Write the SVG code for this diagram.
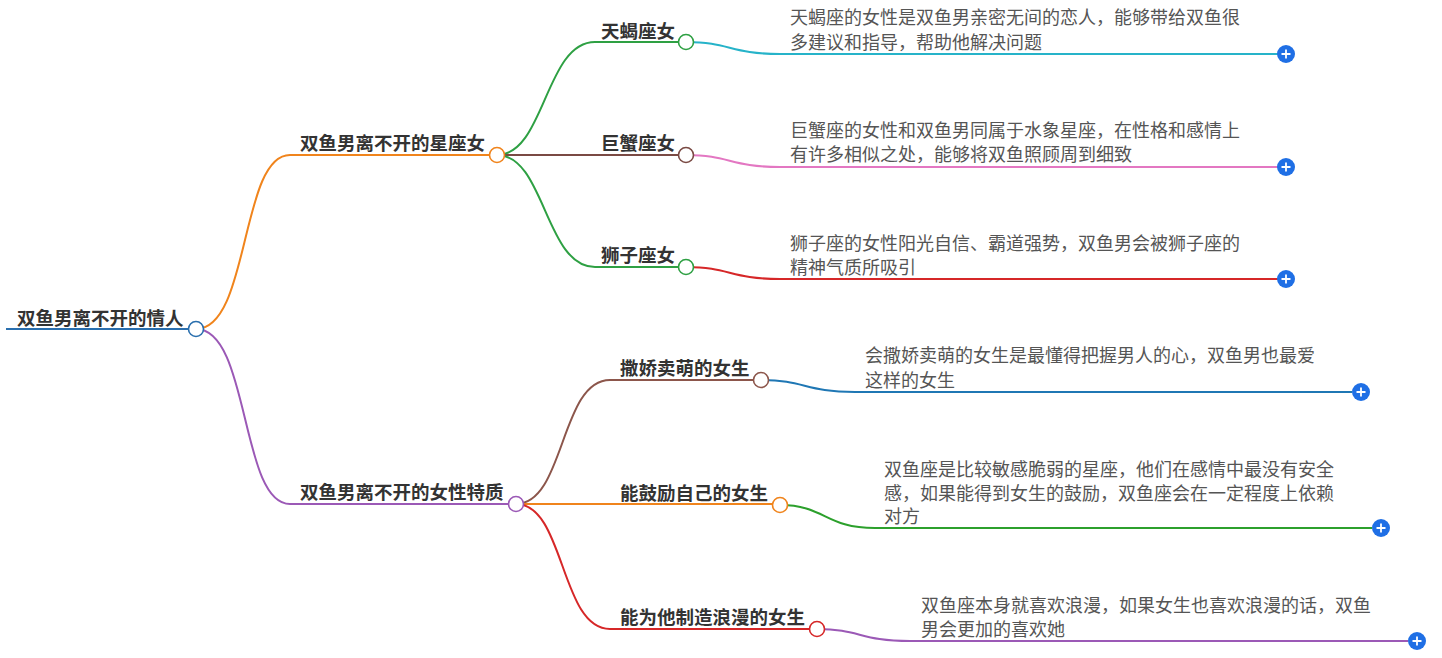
<svg xmlns="http://www.w3.org/2000/svg" width="1442" height="658" viewBox="0 0 1442 658">
<style>
.t{font-family:"Noto Sans CJK SC","Noto Sans",sans-serif;font-weight:bold;font-size:18.5px;fill:#333}
.d{font-family:"Noto Sans CJK SC","Noto Sans",sans-serif;font-size:18px;fill:#555}
path{fill:none;stroke-width:2}
.c{fill:#fff;stroke-width:1.6}
.p{fill:#1f6fe5}
.pl{stroke:#fff;stroke-width:1.8}
</style>
<defs>
<g id="plus"><circle class="p" r="9"/><path class="pl" d="M-4.5 0H4.5M0 -4.5V4.5"/></g>
</defs>
<g id="connectors">
<path d="M6 329H196" stroke="#2a6fae" stroke-width="4.5"/>
<path d="M196 329C250 329 240 155 290 155H497" stroke="#f0841c"/>
<path d="M196 329C250 329 240 504 290 504H516" stroke="#9b59b6"/>
<path d="M497 155C545 155 545 42 595 42H686" stroke="#2ea043"/>
<path d="M497 155H686" stroke="#7a4a44"/>
<path d="M497 155C545 155 545 267 595 267H686" stroke="#2ea043"/>
<path d="M686 42C730 42 730 54 780 54H1278" stroke="#26b3c9"/>
<path d="M686 155C730 155 730 167 780 167H1278" stroke="#e377c2"/>
<path d="M686 267C730 267 730 279 780 279H1278" stroke="#d62728"/>
<path d="M516 504C565 504 560 380 610 380H761" stroke="#8c564b"/>
<path d="M516 504H780" stroke="#f0841c"/>
<path d="M516 504C565 504 560 629 610 629H817" stroke="#d62728"/>
<path d="M761 380C805 380 805 392 855 392H1352" stroke="#1f77b4"/>
<path d="M780 505C825 505 825 528 875 528H1372" stroke="#2ca02c"/>
<path d="M817 629C860 629 860 641 910 641H1408" stroke="#9b59b6"/>
</g>
<g id="root"><text class="t" x="17" y="325" font-size="19">双鱼男离不开的情人</text><circle class="c" cx="196" cy="329" r="7.5" stroke="#2a6fae"/></g>
<g id="b1"><text class="t" x="300" y="150">双鱼男离不开的星座女</text><circle class="c" cx="497" cy="155" r="7.5" stroke="#f0841c"/></g>
<g id="b2"><text class="t" x="300" y="499">双鱼男离不开的女性特质</text><circle class="c" cx="516" cy="504" r="7.5" stroke="#9b59b6"/></g>
<g id="n1"><text class="t" x="601" y="38">天蝎座女</text><circle class="c" cx="686" cy="42" r="7.5" stroke="#2ea043"/></g>
<g id="n2"><text class="t" x="601" y="150">巨蟹座女</text><circle class="c" cx="686" cy="155" r="7.5" stroke="#7a4a44"/></g>
<g id="n3"><text class="t" x="601" y="262">狮子座女</text><circle class="c" cx="686" cy="267" r="7.5" stroke="#2ea043"/></g>
<g id="n4"><text class="t" x="620" y="375">撒娇卖萌的女生</text><circle class="c" cx="761" cy="380" r="7.5" stroke="#8c564b"/></g>
<g id="n5"><text class="t" x="620" y="500">能鼓励自己的女生</text><circle class="c" cx="780" cy="505" r="7.5" stroke="#f0841c"/></g>
<g id="n6"><text class="t" x="620" y="624">能为他制造浪漫的女生</text><circle class="c" cx="817" cy="629" r="7.5" stroke="#d62728"/></g>
<g id="l1"><text class="d" x="790" y="24">天蝎座的女性是双鱼男亲密无间的恋人，能够带给双鱼很</text><text class="d" x="790" y="49">多建议和指导，帮助他解决问题</text><use href="#plus" x="1286" y="54"/></g>
<g id="l2"><text class="d" x="790" y="137">巨蟹座的女性和双鱼男同属于水象星座，在性格和感情上</text><text class="d" x="790" y="161">有许多相似之处，能够将双鱼照顾周到细致</text><use href="#plus" x="1286" y="167"/></g>
<g id="l3"><text class="d" x="790" y="250">狮子座的女性阳光自信、霸道强势，双鱼男会被狮子座的</text><text class="d" x="790" y="274">精神气质所吸引</text><use href="#plus" x="1286" y="279"/></g>
<g id="l4"><text class="d" x="865" y="362">会撒娇卖萌的女生是最懂得把握男人的心，双鱼男也最爱</text><text class="d" x="865" y="387">这样的女生</text><use href="#plus" x="1361" y="392"/></g>
<g id="l5"><text class="d" x="884" y="476">双鱼座是比较敏感脆弱的星座，他们在感情中最没有安全</text><text class="d" x="884" y="500">感，如果能得到女生的鼓励，双鱼座会在一定程度上依赖</text><text class="d" x="884" y="523">对方</text><use href="#plus" x="1381" y="528"/></g>
<g id="l6"><text class="d" x="921" y="612">双鱼座本身就喜欢浪漫，如果女生也喜欢浪漫的话，双鱼</text><text class="d" x="921" y="636">男会更加的喜欢她</text><use href="#plus" x="1417" y="641"/></g>
</svg>
